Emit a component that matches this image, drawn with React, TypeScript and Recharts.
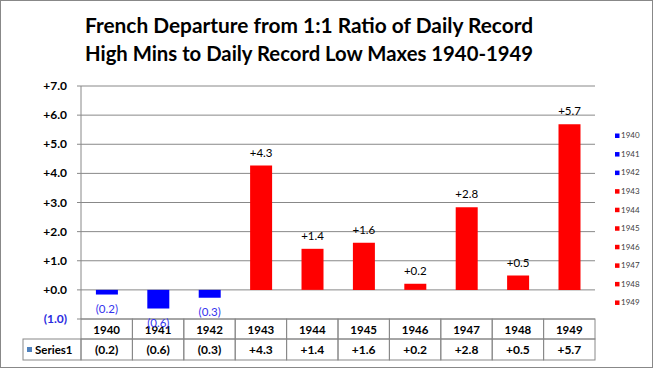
import React from 'react';
import { BarChart, Bar, XAxis, YAxis, CartesianGrid, Cell, LabelList, Customized } from 'recharts';

const years = ['1940', '1941', '1942', '1943', '1944', '1945', '1946', '1947', '1948', '1949'];
const departures = [-0.16, -0.64, -0.27, 4.27, 1.41, 1.62, 0.21, 2.84, 0.49, 5.69];
const yTicks = [-1, 0, 1, 2, 3, 4, 5, 6, 7];
const seriesName = 'Series1';
const titleLines = [
  'French Departure from 1:1 Ratio of Daily Record',
  'High Mins to Daily Record Low Maxes 1940-1949',
];

const data = years.map((year, i) => ({ year, value: departures[i] }));

const FONT = 'Lato, "Open Sans", sans-serif';
const W = 653;
const H = 368;
const MARGIN = { top: 86, right: 58, left: 0, bottom: 8 };
const Y_AXIS_W = 81;
const PLOT_W = W - MARGIN.left - MARGIN.right - Y_AXIS_W;

const BLUE = '#0000FF';
const RED = '#FF0000';
const GRID = '#888888';

const fmt = (v: number) => (v < 0 ? `(${Math.abs(v).toFixed(1)})` : `+${v.toFixed(1)}`);
const colorOf = (v: number) => (v < 0 ? BLUE : RED);

const YTick = (props: any) => {
  const { x, y, payload } = props;
  const v = payload.value as number;
  return (
    <text
      x={x}
      y={y}
      dy={4}
      textAnchor="end"
      fontSize={12}
      fontWeight="bold"
      fontFamily={FONT}
      fill={v < 0 ? '#2a2ae0' : '#000'}
    >
      {fmt(v)}
    </text>
  );
};

const XTick = (props: any) => {
  const { x, y, payload } = props;
  const idx = years.indexOf(String(payload.value));
  const bw = PLOT_W / years.length;
  const left = x - bw / 2;
  const r1 = y;
  const r2 = y + 20;
  const rowH2 = 21;
  return (
    <g>
      <rect x={left} y={r1} width={bw} height={20} fill="none" stroke={GRID} />
      <rect x={left} y={r2} width={bw} height={rowH2} fill="none" stroke={GRID} />
      <text x={x} y={r1 + 15} textAnchor="middle" fontSize={11.5} fontWeight="bold" fontFamily={FONT} fill="#000">
        {payload.value}
      </text>
      <text x={x} y={r2 + 14.5} textAnchor="middle" fontSize={12} fontWeight="bold" fontFamily={FONT} fill="#000">
        {fmt(departures[idx])}
      </text>
      {idx === 0 && (
        <g>
          <rect x={left - 58} y={r2} width={58} height={rowH2} fill="none" stroke={GRID} />
          <rect x={left - 54} y={r2 + 8} width={5} height={5} fill="#4F81BD" />
          <text x={left - 46} y={r2 + 14.5} fontSize={11.5} fontWeight="bold" fontFamily={FONT} fill="#000">
            {seriesName}
          </text>
        </g>
      )}
    </g>
  );
};

const BarLabel = (props: any) => {
  const { x, y, width, height, value } = props;
  const v = Number(value);
  const cx = Number(x) + Number(width) / 2;
  const top = Math.min(Number(y), Number(y) + Number(height));
  const bottom = Math.max(Number(y), Number(y) + Number(height));
  if (v < 0) {
    return (
      <text x={cx} y={bottom + 18} textAnchor="middle" fontSize={11.5} fontFamily={FONT} fill="#3434ee">
        {fmt(v)}
      </text>
    );
  }
  return (
    <text x={cx} y={top - 9} textAnchor="middle" fontSize={11.5} fontFamily={FONT} fill="#000">
      {fmt(v)}
    </text>
  );
};

const Decorations = () => (
  <g>
    <rect x={0.5} y={0.5} width={652} height={367} fill="none" stroke={GRID} />
    {titleLines.map((t, i) => (
      <text
        key={t}
        x={309}
        y={33 + i * 28}
        textAnchor="middle"
        fontSize={21}
        fontWeight="bold"
        fontFamily={FONT}
        fill="#000"
        textLength={448}
        lengthAdjust="spacingAndGlyphs"
      >
        {t}
      </text>
    ))}
    {years.map((yr, i) => {
      const ly = 135.7 + i * 18.55;
      return (
        <g key={yr}>
          <rect x={615} y={ly - 2.2} width={4.5} height={4.5} fill={colorOf(departures[i])} />
          <text x={621} y={ly + 2.6} fontSize={8} fontFamily={FONT} fill="#404040">
            {yr}
          </text>
        </g>
      );
    })}
  </g>
);

export default function App() {
  return (
    <div style={{ position: 'absolute', left: 0, top: 0, width: W, height: H, background: '#fff' }}>
      <BarChart width={W} height={H} data={data} margin={MARGIN} barCategoryGap="29%">
        <CartesianGrid vertical={false} stroke={GRID} strokeWidth={1} />
        <XAxis
          dataKey="year"
          height={41}
          axisLine={false}
          tickLine={false}
          tickSize={0}
          tickMargin={0}
          interval={0}
          tick={<XTick />}
        />
        <YAxis
          width={Y_AXIS_W}
          domain={[-1, 7]}
          ticks={yTicks}
          allowDataOverflow
          axisLine={{ stroke: GRID }}
          tickLine={{ stroke: GRID }}
          tickSize={4}
          tickMargin={10}
          tick={<YTick />}
        />
        <Bar dataKey="value" isAnimationActive={false}>
          {data.map((d) => (
            <Cell key={d.year} fill={colorOf(d.value)} />
          ))}
          <LabelList dataKey="value" content={<BarLabel />} />
        </Bar>
        <Customized component={Decorations} />
      </BarChart>
    </div>
  );
}
